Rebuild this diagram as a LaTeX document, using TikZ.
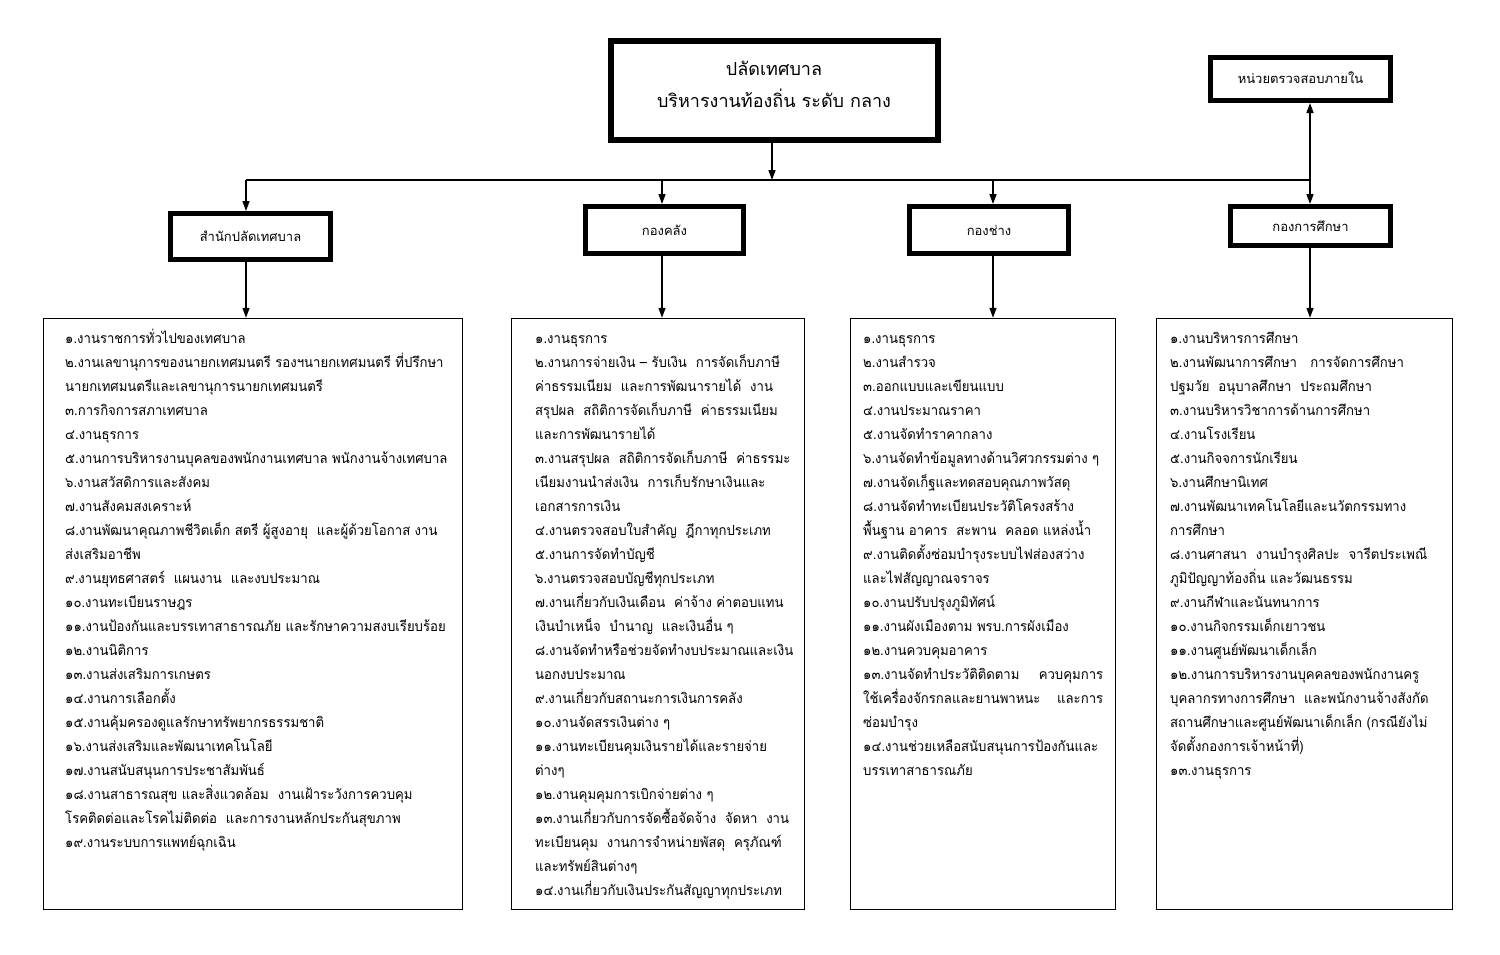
\documentclass[tikz,border=0pt]{standalone}
\usepackage{fontspec}
\newfontfamily\thaifont[Script=Thai]{Loma}
\newfontfamily\thainarrow[Script=Thai,FakeStretch=0.94]{Loma}
\usetikzlibrary{arrows.meta}
\tikzset{
  headbox/.style={draw, line width=5pt, inner sep=0pt, align=center, fill=white,
    font=\thaifont\fontsize{13}{16}\selectfont},
  listbox/.style={draw, line width=1.4pt, inner sep=0pt},
  item/.style={anchor=base west, inner sep=0pt, font=\thainarrow\fontsize{14}{16}\selectfont},
  conn/.style={line width=1.5pt},
  arr/.style={conn, -{Triangle[length=10pt,width=7pt]}},
}
\begin{document}
\begin{tikzpicture}[x=1pt,y=-1pt]
\useasboundingbox[fill=white] (0,0) rectangle (1500,954);
% head boxes
\node[headbox, line width=6pt, minimum width=327pt, minimum height=99pt] (top) at (774.5,90.5) {};
\node[align=center, inner sep=0pt, font=\thaifont\fontsize{18}{32}\selectfont] (toptext) at (774,84)
  {ปลัดเทศบาล\\บริหารงานท้องถิ่น ระดับ กลาง};
\node[headbox, minimum width=180pt, minimum height=43pt] (audit) at (1300.5,79) {\raisebox{2pt}{หน่วยตรวจสอบภายใน}};
\node[headbox, minimum width=160pt, minimum height=46pt] (d1) at (250.5,236.5) {สำนักปลัดเทศบาล};
\node[headbox, minimum width=158pt, minimum height=47pt] (d2) at (664.5,230) {กองคลัง};
\node[headbox, minimum width=159pt, minimum height=47pt] (d3) at (989,230) {กองช่าง};
\node[headbox, minimum width=160pt, minimum height=39pt] (d4) at (1310.5,226) {กองการศึกษา};
% list boxes
\node[listbox, minimum width=419pt, minimum height=591pt] (l1) at (253,614) {};
\node[listbox, minimum width=293pt, minimum height=591pt] (l2) at (658,614) {};
\node[listbox, minimum width=265pt, minimum height=591pt] (l3) at (983,614) {};
\node[listbox, minimum width=296pt, minimum height=591pt] (l4) at (1304.5,614) {};
% connectors
\coordinate (bus) at (772,180);
\coordinate (b1) at (246,180);
\coordinate (b2) at (662,180);
\coordinate (b3) at (993,180);
\coordinate (b4) at (1310,180);
\draw[arr] (top.south -| bus) -- (bus);
\draw[conn] (b1) -- (b4);
\draw[arr] (b1) -- (b1 |- d1.north);
\draw[arr] (b2) -- (b2 |- d2.north);
\draw[arr] (b3) -- (b3 |- d3.north);
\draw[arr] (b4) -- (b4 |- d4.north);
\draw[arr] (b4) -- (b4 |- audit.south);
\draw[arr] (d1.south -| b1) -- (l1.north -| b1);
\draw[arr] (d2.south -| b2) -- (l2.north -| b2);
\draw[arr] (d3.south -| b3) -- (l3.north -| b3);
\draw[arr] (d4.south -| b4) -- (l4.north -| b4);
% column 1
\foreach \s [count=\i] in {
{๑.งานราชการทั่วไปของเทศบาล},
{๒.งานเลขานุการของนายกเทศมนตรี รองฯนายกเทศมนตรี ที่ปรึกษา},
{นายกเทศมนตรีและเลขานุการนายกเทศมนตรี},
{๓.การกิจการสภาเทศบาล},
{๔.งานธุรการ},
{๕.งานการบริหารงานบุคลของพนักงานเทศบาล พนักงานจ้างเทศบาล},
{๖.งานสวัสดิการและสังคม},
{๗.งานสังคมสงเคราะห์},
{๘.งานพัฒนาคุณภาพชีวิตเด็ก สตรี ผู้สูงอายุ~~และผู้ด้วยโอกาส งาน},
{ส่งเสริมอาชีพ},
{๙.งานยุทธศาสตร์~~แผนงาน~~และงบประมาณ},
{๑๐.งานทะเบียนราษฎร},
{๑๑.งานป้องกันและบรรเทาสาธารณภัย และรักษาความสงบเรียบร้อย},
{๑๒.งานนิติการ},
{๑๓.งานส่งเสริมการเกษตร},
{๑๔.งานการเลือกตั้ง},
{๑๕.งานคุ้มครองดูแลรักษาทรัพยากรธรรมชาติ},
{๑๖.งานส่งเสริมและพัฒนาเทคโนโลยี},
{๑๗.งานสนับสนุนการประชาสัมพันธ์},
{๑๘.งานสาธารณสุข และสิ่งแวดล้อม~~งานเฝ้าระวังการควบคุม},
{โรคติดต่อและโรคไม่ติดต่อ~~และการงานหลักประกันสุขภาพ},
{๑๙.งานระบบการแพทย์ฉุกเฉิน}}
  \node[item] (ca\i) at (65,{343+24*(\i-1)}) {\s};
% column 2
\foreach \s [count=\i] in {
{๑.งานธุรการ},
{๒.งานการจ่ายเงิน – รับเงิน~~การจัดเก็บภาษี},
{ค่าธรรมเนียม~~และการพัฒนารายได้~~งาน},
{สรุปผล~~สถิติการจัดเก็บภาษี~~ค่าธรรมเนียม},
{และการพัฒนารายได้},
{๓.งานสรุปผล~~สถิติการจัดเก็บภาษี~~ค่าธรรมะ},
{เนียมงานนำส่งเงิน~~การเก็บรักษาเงินและ},
{เอกสารการเงิน},
{๔.งานตรวจสอบใบสำคัญ~~ฎีกาทุกประเภท},
{๕.งานการจัดทำบัญชี},
{๖.งานตรวจสอบบัญชีทุกประเภท},
{๗.งานเกี่ยวกับเงินเดือน~~ค่าจ้าง ค่าตอบแทน},
{เงินบำเหน็จ~~บำนาญ~~และเงินอื่น ๆ},
{๘.งานจัดทำหรือช่วยจัดทำงบประมาณและเงิน},
{นอกงบประมาณ},
{๙.งานเกี่ยวกับสถานะการเงินการคลัง},
{๑๐.งานจัดสรรเงินต่าง ๆ},
{๑๑.งานทะเบียนคุมเงินรายได้และรายจ่าย},
{ต่างๆ},
{๑๒.งานคุมคุมการเบิกจ่ายต่าง ๆ},
{๑๓.งานเกี่ยวกับการจัดซื้อจัดจ้าง~~จัดหา~~งาน},
{ทะเบียนคุม~~งานการจำหน่ายพัสดุ~~ครุภัณฑ์},
{และทรัพย์สินต่างๆ},
{๑๔.งานเกี่ยวกับเงินประกันสัญญาทุกประเภท}}
  \node[item] (cb\i) at (535,{343+24*(\i-1)}) {\s};
% column 3
\foreach \s [count=\i] in {
{๑.งานธุรการ},
{๒.งานสำรวจ},
{๓.ออกแบบและเขียนแบบ},
{๔.งานประมาณราคา},
{๕.งานจัดทำราคากลาง},
{๖.งานจัดทำข้อมูลทางด้านวิศวกรรมต่าง ๆ},
{๗.งานจัดเก็ฐและทดสอบคุณภาพวัสดุ},
{๘.งานจัดทำทะเบียนประวัติโครงสร้าง},
{พื้นฐาน อาคาร~~สะพาน~~คลอด แหล่งน้ำ},
{๙.งานติดตั้งซ่อมบำรุงระบบไฟส่องสว่าง},
{และไฟสัญญาณจราจร},
{๑๐.งานปรับปรุงภูมิทัศน์},
{๑๑.งานผังเมืองตาม พรบ.การผังเมือง},
{๑๒.งานควบคุมอาคาร},
{\hbox to 240pt{๑๓.งานจัดทำประวัติติดตาม\hfill ควบคุมการ}},
{\hbox to 240pt{ใช้เครื่องจักรกลและยานพาหนะ\hfill และการ}},
{ซ่อมบำรุง},
{๑๔.งานช่วยเหลือสนับสนุนการป้องกันและ},
{บรรเทาสาธารณภัย}}
  \node[item] (cc\i) at (863,{343+24*(\i-1)}) {\s};
% column 4
\foreach \s [count=\i] in {
{๑.งานบริหารการศึกษา},
{๒.งานพัฒนาการศึกษา~~~การจัดการศึกษา},
{ปฐมวัย~~อนุบาลศึกษา~~ประถมศึกษา},
{๓.งานบริหารวิชาการด้านการศึกษา},
{๔.งานโรงเรียน},
{๕.งานกิจจการนักเรียน},
{๖.งานศึกษานิเทศ},
{๗.งานพัฒนาเทคโนโลยีและนวัตกรรมทาง},
{การศึกษา},
{๘.งานศาสนา~~งานบำรุงศิลปะ~~จารีตประเพณี},
{ภูมิปัญญาท้องถิ่น และวัฒนธรรม},
{๙.งานกีฬาและนันทนาการ},
{๑๐.งานกิจกรรมเด็กเยาวชน},
{๑๑.งานศูนย์พัฒนาเด็กเล็ก},
{๑๒.งานการบริหารงานบุคคลของพนักงานครู},
{บุคลากรทางการศึกษา~~และพนักงานจ้างสังกัด},
{สถานศึกษาและศูนย์พัฒนาเด็กเล็ก (กรณียังไม่},
{จัดตั้งกองการเจ้าหน้าที่)},
{๑๓.งานธุรการ}}
  \node[item] (cd\i) at (1170,{343+24*(\i-1)}) {\s};
\end{tikzpicture}
\end{document}
